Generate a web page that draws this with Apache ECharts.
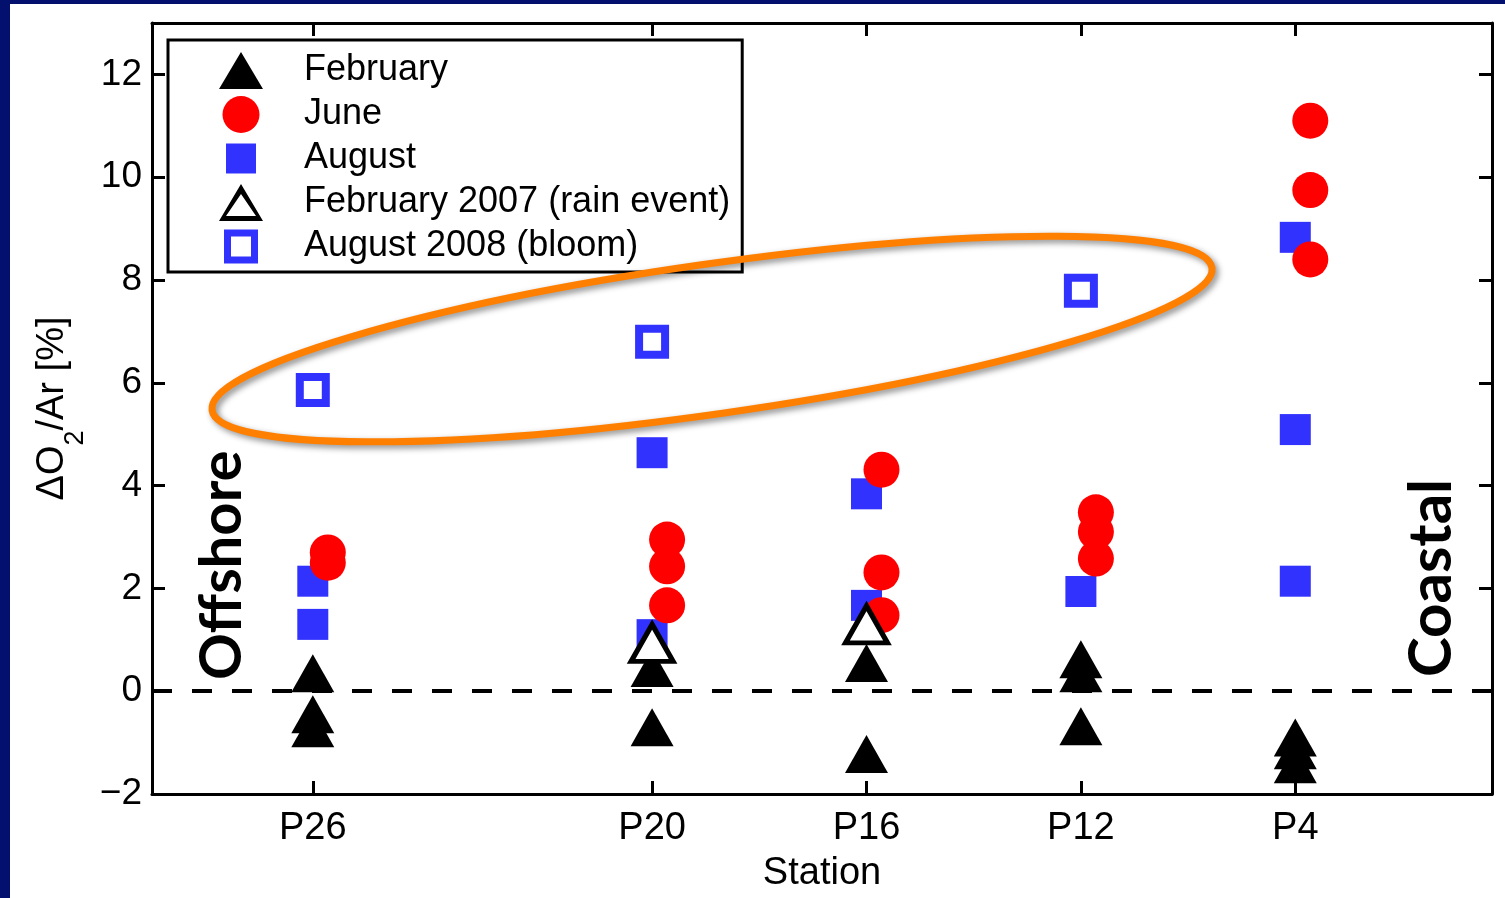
<!DOCTYPE html>
<html>
<head>
<meta charset="utf-8">
<title>ΔO2/Ar by station</title>
<script src="https://cdn.jsdelivr.net/npm/echarts@6/dist/echarts.min.js"></script>
<style>
  html, body { margin: 0; padding: 0; background: #03106e; width: 1505px; height: 898px; overflow: hidden; }
  #chart { position: absolute; left: 10px; top: 4px; width: 1495px; height: 894px; background: #fff; }
</style>
</head>
<body>
<div id="chart"></div>
<script>
// stations, offshore -> coastal, placed by longitude (deg W)
const stations = ['P26', 'P20', 'P16', 'P12', 'P4'];
const stationLon = [145, 138.67, 134.67, 130.67, 126.67];
const yTicks = [-2, 0, 2, 4, 6, 8, 10, 12];

// ΔO2/Ar [%] at each station (same order as stations)
const febValues = [[0.35, -0.45, -0.72], [0.45, -0.7], [0.55, -1.22], [0.62, 0.35, -0.68], [-0.9, -1.15, -1.42]];
const juneValues = [[2.7, 2.5], [2.95, 2.43, 1.67], [4.31, 2.31, 1.48], [3.48, 3.1, 2.58], [11.1, 9.75, 8.4]];
const augValues = [[2.14, 1.3], [4.64, 1.1], [3.84, 1.67], [1.94], [8.83, 5.09, 2.14]];
const feb2007Values = [[], [0.94], [1.3], [], []];
const aug2008Values = [[5.86], [6.8], [], [7.79], []];

const FONT = '"Liberation Sans", Arial, Helvetica, sans-serif';
const BLUE = '#3232ff';
const RED = '#ff0000';

// [[v, v], [v]] -> [[lon, v], ...]
function toPoints(values) {
  const pts = [];
  values.forEach((list, i) => {
    list.forEach(v => pts.push([stationLon[i], v]));
  });
  return pts;
}

function stationName(v) {
  const i = stationLon.findIndex(lon => Math.abs(lon - v) < 0.01);
  return i >= 0 ? stations[i] : '';
}

const axisLine = { show: true, onZero: false, lineStyle: { color: '#000', width: 3 } };
const tickStyle = { color: '#000', width: 3 };

// legend icons drawn as filled outlines so they keep the row height
const ICON_SQUARE = 'path://M0,0M44,37M7,3.5H37V33.5H7Z';
const ICON_OPEN_SQUARE = 'path://M0,0M44,37M5,1.5H39V35.5H5Z M12,8.5V28.5H32V8.5Z';
const ICON_OPEN_TRIANGLE = 'path://M22,0L44,37L0,37Z M22,10L7,32L37,32Z';

const chart = echarts.init(document.getElementById('chart'));
chart.setOption({
  animation: false,
  backgroundColor: '#fff',
  grid: { left: 142, right: 13, top: 19, bottom: 104 },
  xAxis: [
    {
      type: 'value', inverse: true, min: 123, max: 148, position: 'bottom',
      name: 'Station', nameLocation: 'middle', nameGap: 61,
      nameTextStyle: { fontSize: 38, color: '#000', fontFamily: FONT },
      axisLine: axisLine,
      axisTick: { inside: true, length: 13, lineStyle: tickStyle, customValues: stationLon },
      axisLabel: { customValues: stationLon, formatter: stationName, fontSize: 38, color: '#000', fontFamily: FONT, margin: 16 },
      splitLine: { show: false }
    },
    {
      type: 'value', inverse: true, min: 123, max: 148, position: 'top',
      axisLine: axisLine,
      axisTick: { inside: true, length: 13, lineStyle: tickStyle, customValues: stationLon },
      axisLabel: { show: false },
      splitLine: { show: false }
    }
  ],
  yAxis: [
    {
      type: 'value', min: -2, max: 13, interval: 2, position: 'left',
      name: '{a|ΔO}{s|2}{a|/Ar [%]}', nameLocation: 'middle', nameGap: 78, nameRotate: 90,
      nameTextStyle: {
        rich: {
          a: { fontSize: 38, lineHeight: 38, verticalAlign: 'top', color: '#000', fontFamily: FONT },
          s: { fontSize: 27, lineHeight: 27, verticalAlign: 'top', padding: [28, 0, 0, 0], color: '#000', fontFamily: FONT }
        }
      },
      axisLine: axisLine,
      axisTick: { inside: true, length: 13, lineStyle: tickStyle, customValues: yTicks },
      axisLabel: {
        customValues: yTicks,
        formatter: v => (v < 0 ? '\u2212' + Math.abs(v) : String(v)),
        fontSize: 37, color: '#000', fontFamily: FONT, margin: 10
      },
      splitLine: { show: false }
    },
    {
      type: 'value', min: -2, max: 13, interval: 2, position: 'right',
      axisLine: axisLine,
      axisTick: { inside: true, length: 13, lineStyle: tickStyle, customValues: yTicks },
      axisLabel: { show: false },
      splitLine: { show: false }
    }
  ],
  legend: {
    left: 158, top: 36, orient: 'vertical',
    backgroundColor: '#fff', borderColor: '#000', borderWidth: 3, borderRadius: 0,
    padding: [12, 12, 7, 51],
    itemWidth: 44, itemHeight: 37, itemGap: 7,
    selectedMode: false,
    textStyle: { fontSize: 36, lineHeight: 37, color: '#000', fontFamily: FONT, padding: [0, 0, 0, 36] },
    data: [
      { name: 'February', icon: 'triangle' },
      { name: 'June', icon: 'circle' },
      { name: 'August', icon: ICON_SQUARE, itemStyle: { color: BLUE } },
      { name: 'February 2007 (rain event)', icon: ICON_OPEN_TRIANGLE, itemStyle: { color: '#000', borderWidth: 0 } },
      { name: 'August 2008 (bloom)', icon: ICON_OPEN_SQUARE, itemStyle: { color: BLUE, borderWidth: 0 } }
    ]
  },
  graphic: [
    {
      type: 'ellipse', x: 702, y: 335, rotation: 0.1414, silent: true, z: 100,
      shape: { cx: 0, cy: 0, rx: 505, ry: 75 },
      style: {
        fill: 'none', stroke: '#ff7f00', lineWidth: 7,
        shadowBlur: 6, shadowColor: 'rgba(0,0,0,0.45)', shadowOffsetX: 3, shadowOffsetY: 3
      }
    },
    {
      type: 'text', x: 212, y: 676, rotation: Math.PI / 2, z: 100,
      style: { text: 'Offshore', fontSize: 58, fontWeight: 'bold', fontFamily: 'Lato', fill: '#000', align: 'left', verticalAlign: 'middle' }
    },
    {
      type: 'text', x: 1422, y: 673, rotation: Math.PI / 2, z: 100,
      style: { text: 'Coastal', fontSize: 60, fontWeight: 'bold', fontFamily: 'Lato', fill: '#000', align: 'left', verticalAlign: 'middle' }
    }
  ],
  series: [
    {
      // zero reference line
      type: 'scatter', data: [], silent: true, z: 1,
      markLine: {
        silent: true, symbol: ['none', 'none'], label: { show: false },
        lineStyle: { color: '#000', width: 4, type: [20, 20], opacity: 1 },
        data: [{ yAxis: 0 }]
      }
    },
    {
      name: 'February', type: 'scatter', z: 3,
      symbol: 'triangle', symbolSize: [43, 38],
      itemStyle: { color: '#000', opacity: 1 },
      data: toPoints(febValues)
    },
    {
      name: 'August', type: 'scatter', z: 4,
      symbol: 'rect', symbolSize: 31,
      itemStyle: { color: BLUE, opacity: 1 },
      data: toPoints(augValues)
    },
    {
      name: 'June', type: 'scatter', z: 5,
      symbol: 'circle', symbolSize: 36, symbolOffset: [15, 0],
      itemStyle: { color: RED, opacity: 1 },
      data: toPoints(juneValues)
    },
    {
      name: 'February 2007 (rain event)', type: 'scatter', z: 6,
      symbol: 'triangle', symbolSize: [42, 37],
      itemStyle: { color: '#fff', borderColor: '#000', borderWidth: 5, opacity: 1 },
      data: toPoints(feb2007Values)
    },
    {
      name: 'August 2008 (bloom)', type: 'scatter', z: 7,
      symbol: 'rect', symbolSize: 26,
      itemStyle: { color: '#fff', borderColor: BLUE, borderWidth: 8, opacity: 1 },
      data: toPoints(aug2008Values)
    }
  ]
});
</script>
</body>
</html>
